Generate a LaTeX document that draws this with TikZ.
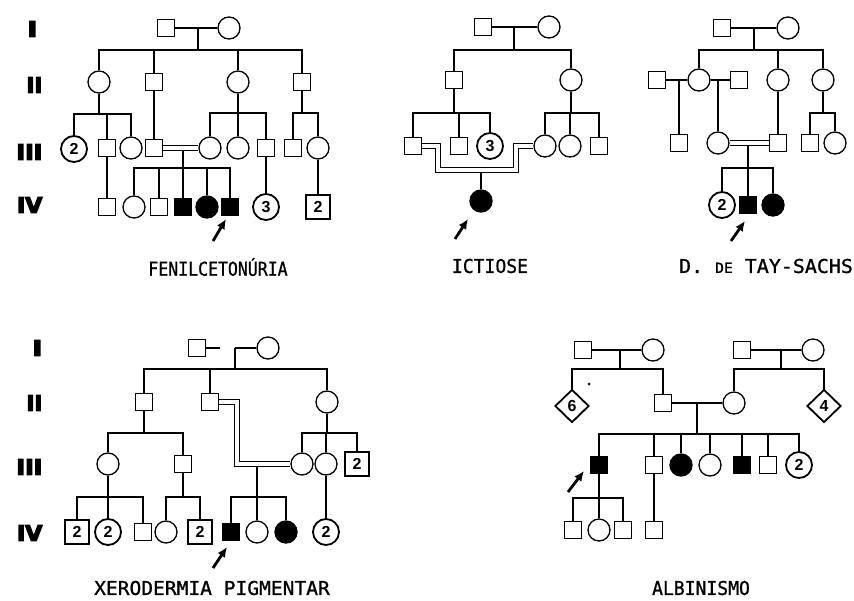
\documentclass[tikz,border=0pt]{standalone}
\usepackage{fontspec}
\usetikzlibrary{shapes.geometric,arrows.meta}
\newfontfamily\titlefont{DejaVu Sans Mono}[FakeBold=1]
\newfontfamily\rowfont{DejaVu Sans}[BoldFeatures={FakeBold=6}]
\newfontfamily\numfont{Liberation Sans}
\begin{document}
\begin{tikzpicture}[x=1pt,y=-1pt,line width=1.4pt,line join=miter,
  sq/.style={draw,rectangle,minimum size=17pt,inner sep=0pt,line width=1.3pt,fill=white},
  ci/.style={draw,circle,minimum size=22pt,inner sep=0pt,line width=1.3pt,fill=white},
  fsq/.style={sq,fill=black},
  fci/.style={ci,fill=black},
  numtxt/.style={font=\numfont\bfseries\fontsize{16}{16}\selectfont},
  nsq/.style={draw,rectangle,minimum size=24pt,inner sep=0pt,line width=1.8pt,fill=white,numtxt},
  nci/.style={draw,circle,minimum size=26pt,inner sep=0pt,line width=1.8pt,fill=white,numtxt},
  ndia/.style={draw,diamond,minimum width=34pt,minimum height=33pt,inner sep=0pt,line width=1.8pt,fill=white,numtxt},
  dl/.style={line width=1.1pt},
  arr/.style={line width=2.8pt,-{Latex[length=10pt,width=9pt]}},
  gen/.style={font=\rowfont\bfseries\fontsize{21}{21}\selectfont,anchor=east,inner sep=0pt},
  ttl/.style={font=\titlefont\fontsize{19}{19}\selectfont,inner sep=0pt}
]
\useasboundingbox[fill=white] (0,0) rectangle (854,600);

% ---------- generation labels ----------
\node[gen] (gTa) at (38,29) {\scalebox{1.25}[1]{I}};
\node[gen] (gTb) at (43,85) {\scalebox{1.0}[1]{II}};
\node[gen] (gTc) at (43,152) {\scalebox{1.1}[1]{III}};
\node[gen] (gTd) at (43,205) {\scalebox{1.05}[1]{IV}};
\node[gen] (gBa) at (43,348) {\scalebox{1.25}[1]{I}};
\node[gen] (gBb) at (43,403) {\scalebox{1.0}[1]{II}};
\node[gen] (gBc) at (43,467) {\scalebox{1.1}[1]{III}};
\node[gen] (gBd) at (43,533) {\scalebox{1.05}[1]{IV}};

% =============== FENILCETONURIA ===============
\node[sq] (fIa) at (166,28) {};
\node[ci] (fIb) at (229,28) {};
\coordinate (fIm) at (198,28);
\coordinate (fIj) at (198,50);
\node[ci] (fIIa) at (99,82) {};
\node[sq] (fIIb) at (154,82) {};
\node[ci] (fIIc) at (238,82) {};
\node[sq] (fIId) at (302,82) {};
\node[nci] (fIIIa) at (74,149) {2};
\node[sq] (fIIIb) at (107,148) {};
\node[ci] (fIIIc) at (131,148) {};
\node[sq] (fIIId) at (154,148) {};
\node[ci] (fIIIe) at (210,148) {};
\node[ci] (fIIIf) at (238,148) {};
\node[sq] (fIIIg) at (266,148) {};
\node[sq] (fIIIh) at (293,148) {};
\node[ci] (fIIIi) at (318,148) {};
\node[sq] (fIVa) at (107,207) {};
\node[ci] (fIVb) at (134,207) {};
\node[sq] (fIVc) at (159,207) {};
\node[fsq] (fIVd) at (183,207) {};
\node[fci] (fIVe) at (207,207) {};
\node[fsq] (fIVf) at (230,207) {};
\node[nci] (fIVg) at (266,207) {3};
\node[nsq] (fIVh) at (318,207) {2};
\draw (fIa) -- (fIb);
\draw (fIm) -- (fIj);
\foreach \c in {fIIa,fIIb,fIIc,fIId} \draw (\c.north) |- (fIj);
\coordinate (fIIaj) at (99,114);
\draw (fIIa) -- (fIIaj);
\foreach \c in {fIIIa,fIIIb,fIIIc} \draw (\c.north) |- (fIIaj);
\draw (fIIb) -- (fIIId);
\coordinate (fIIcj) at (238,113);
\draw (fIIc) -- (fIIcj);
\foreach \c in {fIIIe,fIIIf,fIIIg} \draw (\c.north) |- (fIIcj);
\coordinate (fIIdj) at (302,113);
\draw (fIId) -- (fIIdj);
\foreach \c in {fIIIh,fIIIi} \draw (\c.north) |- (fIIdj);
\draw[dl] ([yshift=2.4pt]fIIId.east) -- ([yshift=2.4pt]fIIIe.west);
\draw[dl] ([yshift=-2.4pt]fIIId.east) -- ([yshift=-2.4pt]fIIIe.west);
\coordinate (fIIIm) at (183,150.4);
\coordinate (fIIIj) at (183,168);
\draw (fIIIm) -- (fIIIj);
\foreach \c in {fIVb,fIVc,fIVd,fIVe,fIVf} \draw (\c.north) |- (fIIIj);
\draw (fIIIb) -- (fIVa);
\draw (fIIIg) -- (fIVg);
\draw (fIIIi) -- (fIVh);
\coordinate (fAs) at (213,241);
\coordinate (fAe) at (226,219);
\draw[arr] (fAs) -- (fAe);
\node[ttl] (fT) at (218,267) {\scalebox{0.87}[1]{FENILCETONÚRIA}};

% =============== ICTIOSE ===============
\node[sq] (iIa) at (483,27) {};
\node[ci] (iIb) at (549,27) {};
\coordinate (iIm) at (514,27);
\coordinate (iIj) at (514,50);
\node[sq] (iIIa) at (454,80) {};
\node[ci] (iIIb) at (571,80) {};
\node[sq] (iIIIa) at (413,146) {};
\node[sq] (iIIIb) at (459,146) {};
\node[nci] (iIIIc) at (490,146) {3};
\node[ci] (iIIId) at (545,146) {};
\node[ci] (iIIIe) at (570,146) {};
\node[sq] (iIIIf) at (599,146) {};
\node[fci] (iIVa) at (481,201) {};
\draw (iIa) -- (iIb);
\draw (iIm) -- (iIj);
\foreach \c in {iIIa,iIIb} \draw (\c.north) |- (iIj);
\coordinate (iIIaj) at (454,113);
\draw (iIIa) -- (iIIaj);
\foreach \c in {iIIIa,iIIIb,iIIIc} \draw (\c.north) |- (iIIaj);
\coordinate (iIIbj) at (571,113);
\draw (iIIb) -- (iIIbj);
\foreach \c in {iIIId,iIIIe,iIIIf} \draw (\c.north) |- (iIIbj);
\draw[dl] ([yshift=2.4pt]iIIIa.east) -- (440.4,143.6) -- (440.4,167.6) -- (513.6,167.6) -- (513.6,143.6) -- ([yshift=2.4pt]iIIId.west);
\draw[dl] ([yshift=-2.4pt]iIIIa.east) -- (435.6,148.4) -- (435.6,172.4) -- (518.4,172.4) -- (518.4,148.4) -- ([yshift=-2.4pt]iIIId.west);
\coordinate (iIIIm) at (481,172.4);
\draw (iIIIm) -- (iIVa);
\coordinate (iAs) at (455,239);
\coordinate (iAe) at (468,219);
\draw[arr] (iAs) -- (iAe);
\node[ttl] (iT) at (490,266) {\scalebox{0.95}[1]{ICTIOSE}};

% =============== TAY-SACHS ===============
\node[sq] (tIa) at (722,28) {};
\node[ci] (tIb) at (788,28) {};
\coordinate (tIm) at (754,28);
\coordinate (tIj) at (754,50);
\node[sq] (tIIa) at (657,80) {};
\node[ci] (tIIb) at (699,80) {};
\node[sq] (tIIc) at (739,80) {};
\node[ci] (tIId) at (778,80) {};
\node[ci] (tIIe) at (823,80) {};
\node[sq] (tIIIa) at (679,143) {};
\node[ci] (tIIIb) at (718,143) {};
\node[sq] (tIIIc) at (778,143) {};
\node[sq] (tIIId) at (810,143) {};
\node[ci] (tIIIe) at (835,143) {};
\node[nci] (tIVa) at (722,205) {2};
\node[fsq] (tIVb) at (748,205) {};
\node[fci] (tIVc) at (773,205) {};
\draw (tIa) -- (tIb);
\draw (tIm) -- (tIj);
\foreach \c in {tIIb,tIId,tIIe} \draw (\c.north) |- (tIj);
\draw (tIIa) -- (tIIb);
\draw (tIIb) -- (tIIc);
\coordinate (tIIm1) at (679,80);
\coordinate (tIIm2) at (718,80);
\draw (tIIm1) -- (tIIIa);
\draw (tIIm2) -- (tIIIb);
\draw (tIId) -- (tIIIc);
\coordinate (tIIej) at (823,113);
\draw (tIIe) -- (tIIej);
\foreach \c in {tIIId,tIIIe} \draw (\c.north) |- (tIIej);
\draw[dl] ([yshift=2.4pt]tIIIb.east) -- ([yshift=2.4pt]tIIIc.west);
\draw[dl] ([yshift=-2.4pt]tIIIb.east) -- ([yshift=-2.4pt]tIIIc.west);
\coordinate (tIIIm) at (748,145.4);
\coordinate (tIIIj) at (748,168);
\draw (tIIIm) -- (tIIIj);
\foreach \c in {tIVa,tIVb,tIVc} \draw (\c.north) |- (tIIIj);
\coordinate (tAs) at (731,241);
\coordinate (tAe) at (745,221);
\draw[arr] (tAs) -- (tAe);
\node[ttl] (tT) at (766,266) {\scalebox{1.05}[1]{D. {\fontsize{14}{14}\selectfont DE} TAY-SACHS}};

% =============== XERODERMIA PIGMENTAR ===============
\node[sq] (xIa) at (197,348) {};
\node[ci] (xIb) at (268,348) {};
\coordinate (xIg) at (220,348);
\coordinate (xIm) at (235,348);
\coordinate (xIj) at (235,369);
\node[sq] (xIIa) at (144,402) {};
\node[sq] (xIIb) at (210,402) {};
\node[ci] (xIIc) at (327,402) {};
\node[ci] (xIIIa) at (108,464) {};
\node[sq] (xIIIb) at (183,464) {};
\node[ci] (xIIIc) at (302,464) {};
\node[ci] (xIIId) at (326,464) {};
\node[nsq] (xIIIe) at (357,464) {2};
\node[nsq] (xIVa) at (77,532) {2};
\node[nci] (xIVb) at (108,532) {2};
\node[sq] (xIVc) at (143,532) {};
\node[ci] (xIVd) at (166,532) {};
\node[nsq] (xIVe) at (200,532) {2};
\node[fsq] (xIVf) at (231,532) {};
\node[ci] (xIVg) at (257,532) {};
\node[fci] (xIVh) at (286,532) {};
\node[nci] (xIVi) at (326,532) {2};
\draw (xIa) -- (xIg);
\draw (xIm) -- (xIb);
\draw (xIm) -- (xIj);
\foreach \c in {xIIa,xIIb,xIIc} \draw (\c.north) |- (xIj);
\coordinate (xIIaj) at (144,433);
\draw (xIIa) -- (xIIaj);
\foreach \c in {xIIIa,xIIIb} \draw (\c.north) |- (xIIaj);
\coordinate (xIIcj) at (327,433);
\draw (xIIc) -- (xIIcj);
\foreach \c in {xIIIc,xIIId,xIIIe} \draw (\c.north) |- (xIIcj);
\draw[dl] ([yshift=2.4pt]xIIb.east) -- (239.4,399.6) -- (239.4,461.6) -- ([yshift=2.4pt]xIIIc.west);
\draw[dl] ([yshift=-2.4pt]xIIb.east) -- (234.6,404.4) -- (234.6,466.4) -- ([yshift=-2.4pt]xIIIc.west);
\coordinate (xIIIm) at (257,466.4);
\coordinate (xIIIj) at (257,497);
\draw (xIIIm) -- (xIIIj);
\foreach \c in {xIVf,xIVg,xIVh} \draw (\c.north) |- (xIIIj);
\coordinate (xIIIaj) at (108,497);
\draw (xIIIa) -- (xIIIaj);
\foreach \c in {xIVa,xIVb,xIVc} \draw (\c.north) |- (xIIIaj);
\coordinate (xIIIbj) at (183,497);
\draw (xIIIb) -- (xIIIbj);
\foreach \c in {xIVd,xIVe} \draw (\c.north) |- (xIIIbj);
\draw (xIIId) -- (xIVi);
\coordinate (xAs) at (213,568);
\coordinate (xAe) at (227,547);
\draw[arr] (xAs) -- (xAe);
\node[ttl] (xT) at (212,588) {\scalebox{1.03}[1]{XERODERMIA PIGMENTAR}};

% =============== ALBINISMO ===============
\node[sq] (aIa) at (583,350) {};
\node[ci] (aIb) at (653,350) {};
\coordinate (aIm) at (620,350);
\coordinate (aIj) at (620,369);
\node[sq] (aIc) at (742,350) {};
\node[ci] (aId) at (813,350) {};
\coordinate (aIm2) at (781,350);
\coordinate (aIj2) at (781,369);
\node[ndia] (aIIa) at (572,406) {6};
\node[sq] (aIIb) at (663,403) {};
\node[ci] (aIIc) at (734,403) {};
\node[ndia] (aIId) at (824,406) {4};
\node[fsq] (aIIIa) at (599,465) {};
\node[sq] (aIIIb) at (654,465) {};
\node[fci] (aIIIc) at (681,465) {};
\node[ci] (aIIId) at (710,465) {};
\node[fsq] (aIIIe) at (742,465) {};
\node[sq] (aIIIf) at (768,465) {};
\node[nci] (aIIIg) at (799,465) {2};
\node[sq] (aIVa) at (573,530) {};
\node[ci] (aIVb) at (599,530) {};
\node[sq] (aIVc) at (623,530) {};
\node[sq] (aIVd) at (654,530) {};
\draw (aIa) -- (aIb);
\draw (aIm) -- (aIj);
\foreach \c in {aIIa,aIIb} \draw (\c.north) |- (aIj);
\draw (aIc) -- (aId);
\draw (aIm2) -- (aIj2);
\foreach \c in {aIIc,aIId} \draw (\c.north) |- (aIj2);
\draw (aIIb) -- (aIIc);
\coordinate (aIIm) at (697,403);
\coordinate (aIIj) at (697,434);
\draw (aIIm) -- (aIIj);
\foreach \c in {aIIIa,aIIIb,aIIIc,aIIId,aIIIe,aIIIf,aIIIg} \draw (\c.north) |- (aIIj);
\coordinate (aIIIaj) at (599,498);
\draw (aIIIa) -- (aIIIaj);
\foreach \c in {aIVa,aIVb,aIVc} \draw (\c.north) |- (aIIIaj);
\draw (aIIIb) -- (aIVd);
\fill (589,384) circle (1.5pt);
\coordinate (aAs) at (568,492);
\coordinate (aAe) at (584,471);
\draw[arr] (aAs) -- (aAe);
\node[ttl] (aT) at (701,588) {\scalebox{0.95}[1]{ALBINISMO}};
\end{tikzpicture}
\end{document}
